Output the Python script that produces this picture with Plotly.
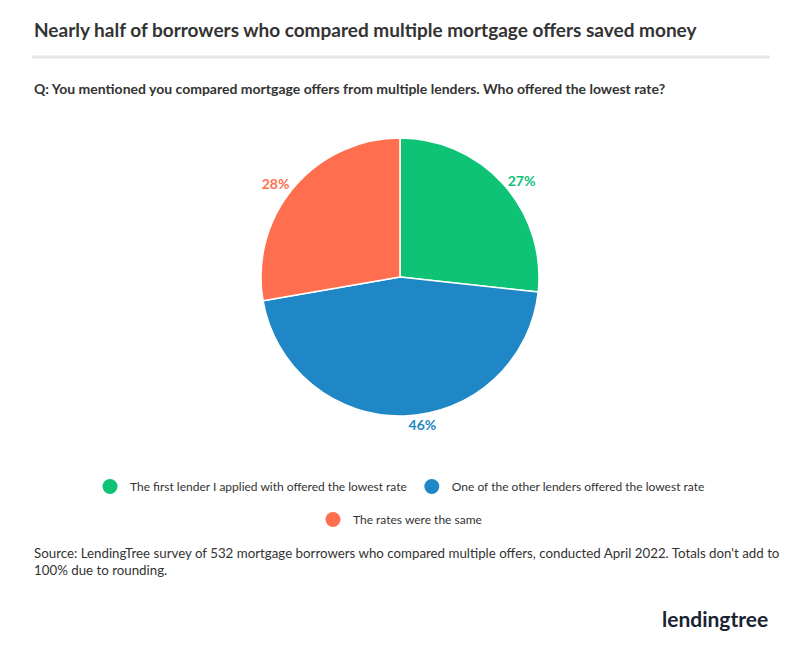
import plotly.graph_objects as go

labels = ["The first lender I applied with offered the lowest rate",
          "One of the other lenders offered the lowest rate",
          "The rates were the same"]
values = [27, 46, 28]
colors = ["#0fc376", "#1f87c5", "#ff6f4f"]

W, H, OFF = 784, 629, 8  # page body has an 8px margin


def px(x):
    return (x - OFF) / W


def py(y):
    return 1 - (y - OFF) / H


fig = go.Figure()
fig.add_trace(go.Pie(
    labels=labels, values=values, sort=False, direction="clockwise", rotation=0,
    marker=dict(colors=colors, line=dict(color="white", width=1.5)),
    texttemplate="<b>%{value}%</b>", textposition="outside",
    textfont=dict(color=colors, size=14, family="Lato"),
    showlegend=False, domain=dict(x=[px(251), px(549)], y=[py(416), py(138)]),
))

for i in range(3):
    fig.add_trace(go.Scatter(
        x=[None], y=[None], mode="markers", name=labels[i],
        marker=dict(color=colors[i], size=15),
        legend="legend" if i < 2 else "legend2",
    ))

fig.update_xaxes(visible=False)
fig.update_yaxes(visible=False)

fig.add_annotation(text="<b>Nearly half of borrowers who compared multiple mortgage offers saved money</b>",
                   x=px(32), y=py(30), xref="paper", yref="paper", xanchor="left", yanchor="middle",
                   showarrow=False, font=dict(size=19, color="#333333", family="Lato"))
fig.add_shape(type="line", xref="paper", yref="paper", x0=px(32), x1=px(770),
              y0=py(57), y1=py(57), line=dict(color="#e6e6e6", width=3))
fig.add_annotation(text="<b>Q: You mentioned you compared mortgage offers from multiple lenders. Who offered the lowest rate?</b>",
                   x=px(32), y=py(89), xref="paper", yref="paper", xanchor="left", yanchor="middle",
                   showarrow=False, font=dict(size=14, color="#333333", family="Lato"))
fig.add_annotation(text="Source: LendingTree survey of 532 mortgage borrowers who compared multiple offers, conducted April 2022. Totals don't add to<br>100% due to rounding.",
                   x=px(32), y=py(543), xref="paper", yref="paper", xanchor="left", yanchor="top",
                   align="left", showarrow=False, font=dict(size=13.3, color="#333333", family="Lato"))
fig.add_annotation(text="<b>lendingtree</b>",
                   x=px(770), y=py(618), xref="paper", yref="paper", xanchor="right", yanchor="middle",
                   showarrow=False, font=dict(size=21, color="#1a2233", family="Lato"))

fig.update_layout(
    width=W, height=H, margin=dict(l=0, r=0, t=0, b=0),
    paper_bgcolor="white", plot_bgcolor="white",
    legend=dict(orientation="h", x=px(400), xanchor="center", y=py(472), yanchor="top",
                font=dict(size=12, color="#333333", family="Lato")),
    legend2=dict(orientation="h", x=px(400), xanchor="center", y=py(505), yanchor="top",
                 font=dict(size=12, color="#333333", family="Lato")),
)
fig.write_html("out.html")
